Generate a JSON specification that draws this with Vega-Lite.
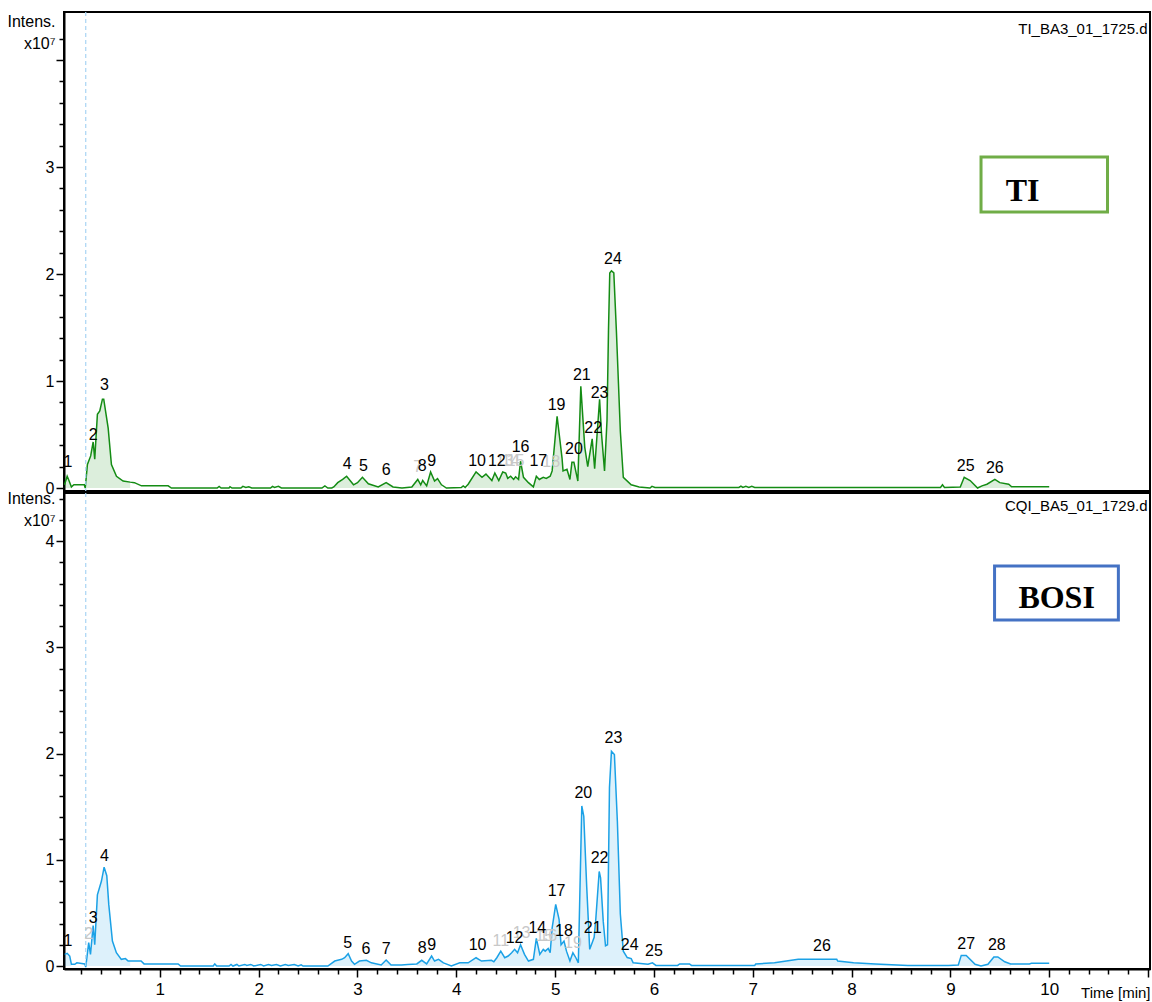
{
  "$schema": "https://vega.github.io/schema/vega-lite/v6.json",
  "padding": {"left": 5, "top": 10, "right": 4, "bottom": 2},
  "spacing": 2,
  "bounds": "flush",
  "config": {
    "view": {"stroke": "black", "strokeWidth": 2},
    "font": "Liberation Sans, Arial, sans-serif",
    "axis": {"grid": false, "domainColor": "black", "domainWidth": 2, "tickColor": "black", "tickWidth": 1.5, "labelColor": "black", "titleColor": "black", "labelFlush": false, "labelOverlap": false}
  },
  "datasets": {
    "ti": [
      {"t": 0.035, "v": 0.03, "g": "a"}, {"t": 0.062, "v": 0.11, "g": "a"}, {"t": 0.08, "v": 0.07, "g": "a"}, {"t": 0.105, "v": 0.01, "g": "a"},
      {"t": 0.13, "v": 0.03, "g": null}, {"t": 0.2, "v": 0.03, "g": null}, {"t": 0.235, "v": 0.03, "g": null},
      {"t": 0.245, "v": 0.0, "g": "b"}, {"t": 0.267, "v": 0.22, "g": "b"}, {"t": 0.3, "v": 0.3, "g": "b"}, {"t": 0.325, "v": 0.43, "g": "b"}, {"t": 0.341, "v": 0.27, "g": "b"}, {"t": 0.368, "v": 0.69, "g": "b"}, {"t": 0.392, "v": 0.72, "g": "b"}, {"t": 0.419, "v": 0.83, "g": "b"}, {"t": 0.432, "v": 0.83, "g": "b"}, {"t": 0.477, "v": 0.56, "g": "b"}, {"t": 0.51, "v": 0.22, "g": "b"}, {"t": 0.561, "v": 0.11, "g": "b"}, {"t": 0.628, "v": 0.065, "g": "b"}, {"t": 0.7, "v": 0.055, "g": "b"},
      {"t": 0.743, "v": 0.05, "g": null}, {"t": 0.814, "v": 0.02, "g": null}, {"t": 1.084, "v": 0.02, "g": null}, {"t": 1.117, "v": 0.0, "g": null}, {"t": 1.58, "v": 0.0, "g": null}, {"t": 1.6, "v": 0.015, "g": null}, {"t": 1.62, "v": 0.0, "g": null}, {"t": 1.7, "v": 0.0, "g": null}, {"t": 1.71, "v": 0.012, "g": null}, {"t": 1.73, "v": 0.0, "g": null}, {"t": 1.82, "v": 0.0, "g": null}, {"t": 1.84, "v": 0.015, "g": null}, {"t": 1.87, "v": 0.005, "g": null}, {"t": 1.9, "v": 0.012, "g": null}, {"t": 1.93, "v": 0.0, "g": null}, {"t": 2.12, "v": 0.0, "g": null}, {"t": 2.14, "v": 0.015, "g": null}, {"t": 2.16, "v": 0.005, "g": null}, {"t": 2.2, "v": 0.015, "g": null}, {"t": 2.23, "v": 0.0, "g": null}, {"t": 2.64, "v": 0.0, "g": null}, {"t": 2.67, "v": 0.02, "g": null}, {"t": 2.7, "v": 0.0, "g": null}, {"t": 2.74, "v": 0.0, "g": null},
      {"t": 2.76, "v": 0.01, "g": "c"}, {"t": 2.8, "v": 0.05, "g": "c"}, {"t": 2.85, "v": 0.08, "g": "c"}, {"t": 2.89, "v": 0.11, "g": "c"}, {"t": 2.96, "v": 0.03, "g": "c"}, {"t": 3.0, "v": 0.05, "g": "c"}, {"t": 3.05, "v": 0.1, "g": "c"}, {"t": 3.11, "v": 0.04, "g": "c"}, {"t": 3.21, "v": 0.01, "g": "c"}, {"t": 3.29, "v": 0.05, "g": "c"}, {"t": 3.36, "v": 0.01, "g": "c"},
      {"t": 3.45, "v": 0.0, "g": null},
      {"t": 3.55, "v": 0.01, "g": "d"}, {"t": 3.61, "v": 0.08, "g": "d"}, {"t": 3.64, "v": 0.03, "g": "d"}, {"t": 3.66, "v": 0.07, "g": "d"}, {"t": 3.7, "v": 0.02, "g": "d"}, {"t": 3.74, "v": 0.15, "g": "d"}, {"t": 3.78, "v": 0.065, "g": "d"}, {"t": 3.81, "v": 0.087, "g": "d"}, {"t": 3.85, "v": 0.03, "g": "d"},
      {"t": 3.9, "v": 0.0, "g": null}, {"t": 4.05, "v": 0.005, "g": null}, {"t": 4.07, "v": 0.02, "g": null}, {"t": 4.09, "v": 0.005, "g": null},
      {"t": 4.12, "v": 0.035, "g": "e"}, {"t": 4.2, "v": 0.15, "g": "e"}, {"t": 4.26, "v": 0.1, "g": "e"}, {"t": 4.3, "v": 0.13, "g": "e"}, {"t": 4.36, "v": 0.07, "g": "e"}, {"t": 4.39, "v": 0.14, "g": "e"}, {"t": 4.43, "v": 0.07, "g": "e"}, {"t": 4.47, "v": 0.15, "g": "e"}, {"t": 4.5, "v": 0.14, "g": "e"}, {"t": 4.52, "v": 0.09, "g": "e"}, {"t": 4.55, "v": 0.11, "g": "e"}, {"t": 4.58, "v": 0.08, "g": "e"}, {"t": 4.6, "v": 0.105, "g": "e"}, {"t": 4.63, "v": 0.08, "g": "e"}, {"t": 4.65, "v": 0.25, "g": "e"}, {"t": 4.68, "v": 0.1, "g": "e"}, {"t": 4.73, "v": 0.05, "g": "e"}, {"t": 4.78, "v": 0.01, "g": "e"}, {"t": 4.81, "v": 0.11, "g": "e"}, {"t": 4.84, "v": 0.08, "g": "e"}, {"t": 4.88, "v": 0.1, "g": "e"}, {"t": 4.91, "v": 0.09, "g": "e"}, {"t": 4.95, "v": 0.11, "g": "e"}, {"t": 4.97, "v": 0.16, "g": "e"}, {"t": 5.02, "v": 0.67, "g": "e"}, {"t": 5.07, "v": 0.28, "g": "e"}, {"t": 5.08, "v": 0.16, "g": "e"}, {"t": 5.12, "v": 0.175, "g": "e"}, {"t": 5.15, "v": 0.08, "g": "e"}, {"t": 5.17, "v": 0.24, "g": "e"}, {"t": 5.19, "v": 0.24, "g": "e"}, {"t": 5.23, "v": 0.065, "g": "e"}, {"t": 5.26, "v": 0.95, "g": "e"}, {"t": 5.3, "v": 0.38, "g": "e"}, {"t": 5.33, "v": 0.2, "g": "e"}, {"t": 5.375, "v": 0.46, "g": "e"}, {"t": 5.4, "v": 0.18, "g": "e"}, {"t": 5.45, "v": 0.83, "g": "e"}, {"t": 5.47, "v": 0.5, "g": "e"}, {"t": 5.5, "v": 0.16, "g": "e"}, {"t": 5.525, "v": 0.63, "g": "e"}, {"t": 5.54, "v": 1.47, "g": "e"}, {"t": 5.553, "v": 2.01, "g": "e"}, {"t": 5.57, "v": 2.03, "g": "e"}, {"t": 5.594, "v": 2.01, "g": "e"}, {"t": 5.62, "v": 1.47, "g": "e"}, {"t": 5.66, "v": 0.53, "g": "e"}, {"t": 5.69, "v": 0.1, "g": "e"}, {"t": 5.77, "v": 0.03, "g": "e"},
      {"t": 5.85, "v": 0.01, "g": null}, {"t": 5.96, "v": 0.0, "g": null}, {"t": 5.98, "v": 0.015, "g": null}, {"t": 6.01, "v": 0.005, "g": null}, {"t": 6.86, "v": 0.005, "g": null}, {"t": 6.88, "v": 0.018, "g": null}, {"t": 6.9, "v": 0.005, "g": null}, {"t": 6.93, "v": 0.015, "g": null}, {"t": 6.96, "v": 0.005, "g": null}, {"t": 6.99, "v": 0.015, "g": null}, {"t": 7.02, "v": 0.005, "g": null}, {"t": 8.9, "v": 0.005, "g": null}, {"t": 8.92, "v": 0.03, "g": null}, {"t": 8.94, "v": 0.005, "g": null},
      {"t": 9.1, "v": 0.01, "g": "f"}, {"t": 9.14, "v": 0.1, "g": "f"}, {"t": 9.2, "v": 0.07, "g": "f"}, {"t": 9.275, "v": 0.0, "g": "f"}, {"t": 9.32, "v": 0.02, "g": "f"}, {"t": 9.37, "v": 0.035, "g": "f"}, {"t": 9.45, "v": 0.08, "g": "f"}, {"t": 9.5, "v": 0.05, "g": "f"}, {"t": 9.59, "v": 0.035, "g": "f"}, {"t": 9.62, "v": 0.012, "g": "f"},
      {"t": 10.0, "v": 0.012, "g": null}
    ],
    "bosi": [
      {"t": 0.037, "v": 0.11, "g": "a"}, {"t": 0.062, "v": 0.12, "g": "a"}, {"t": 0.088, "v": 0.094, "g": "a"}, {"t": 0.105, "v": 0.016, "g": "a"},
      {"t": 0.139, "v": 0.016, "g": null}, {"t": 0.16, "v": 0.03, "g": null}, {"t": 0.24, "v": 0.02, "g": null},
      {"t": 0.25, "v": -0.01, "g": "b"}, {"t": 0.28, "v": 0.22, "g": "b"}, {"t": 0.298, "v": 0.11, "g": "b"}, {"t": 0.325, "v": 0.38, "g": "b"}, {"t": 0.341, "v": 0.2, "g": "b"}, {"t": 0.368, "v": 0.67, "g": "b"}, {"t": 0.409, "v": 0.8, "g": "b"}, {"t": 0.436, "v": 0.93, "g": "b"}, {"t": 0.463, "v": 0.85, "g": "b"}, {"t": 0.483, "v": 0.58, "g": "b"}, {"t": 0.52, "v": 0.235, "g": "b"}, {"t": 0.56, "v": 0.125, "g": "b"}, {"t": 0.61, "v": 0.063, "g": "b"}, {"t": 0.652, "v": 0.07, "g": "b"}, {"t": 0.679, "v": 0.047, "g": "b"}, {"t": 0.7, "v": 0.047, "g": "b"},
      {"t": 0.81, "v": 0.047, "g": null}, {"t": 0.84, "v": 0.02, "g": null}, {"t": 1.185, "v": 0.02, "g": null}, {"t": 1.21, "v": 0.0, "g": null}, {"t": 1.54, "v": 0.0, "g": null}, {"t": 1.556, "v": 0.02, "g": null}, {"t": 1.575, "v": 0.0, "g": null}, {"t": 1.7, "v": 0.0, "g": null}, {"t": 1.72, "v": 0.015, "g": null}, {"t": 1.74, "v": 0.0, "g": null}, {"t": 1.78, "v": 0.015, "g": null}, {"t": 1.8, "v": 0.0, "g": null}, {"t": 1.86, "v": 0.015, "g": null}, {"t": 1.88, "v": 0.005, "g": null}, {"t": 1.92, "v": 0.015, "g": null}, {"t": 1.95, "v": 0.0, "g": null}, {"t": 2.02, "v": 0.015, "g": null}, {"t": 2.05, "v": 0.0, "g": null}, {"t": 2.1, "v": 0.015, "g": null}, {"t": 2.13, "v": 0.005, "g": null}, {"t": 2.18, "v": 0.015, "g": null}, {"t": 2.22, "v": 0.0, "g": null}, {"t": 2.27, "v": 0.015, "g": null}, {"t": 2.3, "v": 0.005, "g": null}, {"t": 2.36, "v": 0.015, "g": null}, {"t": 2.4, "v": 0.0, "g": null}, {"t": 2.43, "v": 0.012, "g": null}, {"t": 2.45, "v": 0.0, "g": null}, {"t": 2.68, "v": 0.0, "g": null},
      {"t": 2.7, "v": 0.0, "g": "c"}, {"t": 2.77, "v": 0.047, "g": "c"}, {"t": 2.84, "v": 0.063, "g": "c"}, {"t": 2.87, "v": 0.078, "g": "c"}, {"t": 2.906, "v": 0.116, "g": "c"}, {"t": 2.94, "v": 0.047, "g": "c"}, {"t": 2.97, "v": 0.016, "g": "c"}, {"t": 3.02, "v": 0.047, "g": "c"}, {"t": 3.09, "v": 0.054, "g": "c"}, {"t": 3.14, "v": 0.03, "g": "c"}, {"t": 3.24, "v": 0.01, "g": "c"}, {"t": 3.29, "v": 0.056, "g": "c"}, {"t": 3.34, "v": 0.01, "g": "c"},
      {"t": 3.445, "v": 0.01, "g": null}, {"t": 3.51, "v": 0.015, "g": null},
      {"t": 3.6, "v": 0.02, "g": "d"}, {"t": 3.65, "v": 0.054, "g": "d"}, {"t": 3.7, "v": 0.02, "g": "d"}, {"t": 3.75, "v": 0.094, "g": "d"}, {"t": 3.78, "v": 0.047, "g": "d"}, {"t": 3.82, "v": 0.063, "g": "d"}, {"t": 3.87, "v": 0.03, "g": "d"},
      {"t": 3.95, "v": 0.0, "g": null},
      {"t": 4.035, "v": 0.03, "g": "e"}, {"t": 4.12, "v": 0.03, "g": "e"}, {"t": 4.2, "v": 0.078, "g": "e"}, {"t": 4.255, "v": 0.047, "g": "e"}, {"t": 4.356, "v": 0.054, "g": "e"}, {"t": 4.38, "v": 0.04, "g": "e"}, {"t": 4.41, "v": 0.078, "g": "e"}, {"t": 4.45, "v": 0.14, "g": "e"}, {"t": 4.49, "v": 0.078, "g": "e"}, {"t": 4.525, "v": 0.094, "g": "e"}, {"t": 4.56, "v": 0.125, "g": "e"}, {"t": 4.59, "v": 0.157, "g": "e"}, {"t": 4.62, "v": 0.125, "g": "e"}, {"t": 4.65, "v": 0.2, "g": "e"}, {"t": 4.69, "v": 0.11, "g": "e"}, {"t": 4.73, "v": 0.047, "g": "e"}, {"t": 4.78, "v": 0.063, "g": "e"}, {"t": 4.81, "v": 0.26, "g": "e"}, {"t": 4.845, "v": 0.11, "g": "e"}, {"t": 4.88, "v": 0.157, "g": "e"}, {"t": 4.9, "v": 0.14, "g": "e"}, {"t": 4.93, "v": 0.166, "g": "e"}, {"t": 4.95, "v": 0.125, "g": "e"}, {"t": 4.97, "v": 0.36, "g": "e"}, {"t": 5.006, "v": 0.58, "g": "e"}, {"t": 5.04, "v": 0.44, "g": "e"}, {"t": 5.06, "v": 0.2, "g": "e"}, {"t": 5.09, "v": 0.235, "g": "e"}, {"t": 5.115, "v": 0.14, "g": "e"}, {"t": 5.15, "v": 0.047, "g": "e"}, {"t": 5.18, "v": 0.125, "g": "e"}, {"t": 5.21, "v": 0.078, "g": "e"}, {"t": 5.235, "v": 0.03, "g": "e"}, {"t": 5.27, "v": 1.506, "g": "e"}, {"t": 5.29, "v": 1.41, "g": "e"}, {"t": 5.32, "v": 0.74, "g": "e"}, {"t": 5.35, "v": 0.157, "g": "e"}, {"t": 5.375, "v": 0.22, "g": "e"}, {"t": 5.395, "v": 0.27, "g": "e"}, {"t": 5.41, "v": 0.42, "g": "e"}, {"t": 5.446, "v": 0.89, "g": "e"}, {"t": 5.46, "v": 0.83, "g": "e"}, {"t": 5.487, "v": 0.42, "g": "e"}, {"t": 5.51, "v": 0.19, "g": "e"}, {"t": 5.53, "v": 0.2, "g": "e"}, {"t": 5.55, "v": 1.68, "g": "e"}, {"t": 5.57, "v": 2.02, "g": "e"}, {"t": 5.6, "v": 1.99, "g": "e"}, {"t": 5.63, "v": 1.36, "g": "e"}, {"t": 5.66, "v": 0.49, "g": "e"}, {"t": 5.69, "v": 0.14, "g": "e"}, {"t": 5.73, "v": 0.08, "g": "e"}, {"t": 5.77, "v": 0.07, "g": "e"}, {"t": 5.79, "v": 0.03, "g": "e"},
      {"t": 5.94, "v": 0.016, "g": null}, {"t": 5.985, "v": 0.03, "g": null}, {"t": 6.02, "v": 0.006, "g": null}, {"t": 6.24, "v": 0.006, "g": null}, {"t": 6.26, "v": 0.02, "g": null}, {"t": 6.36, "v": 0.02, "g": null}, {"t": 6.38, "v": 0.006, "g": null},
      {"t": 7.02, "v": 0.006, "g": "g"}, {"t": 7.03, "v": 0.02, "g": "g"}, {"t": 7.22, "v": 0.03, "g": "g"}, {"t": 7.34, "v": 0.047, "g": "g"}, {"t": 7.46, "v": 0.063, "g": "g"}, {"t": 7.85, "v": 0.063, "g": "g"}, {"t": 7.86, "v": 0.047, "g": "g"}, {"t": 8.02, "v": 0.03, "g": "g"}, {"t": 8.24, "v": 0.02, "g": "g"}, {"t": 8.57, "v": 0.006, "g": "g"},
      {"t": 8.98, "v": 0.006, "g": null},
      {"t": 9.08, "v": 0.01, "g": "h"}, {"t": 9.11, "v": 0.1, "g": "h"}, {"t": 9.16, "v": 0.1, "g": "h"}, {"t": 9.25, "v": 0.016, "g": "h"}, {"t": 9.31, "v": 0.0, "g": "h"}, {"t": 9.38, "v": 0.016, "g": "h"}, {"t": 9.44, "v": 0.085, "g": "h"}, {"t": 9.48, "v": 0.085, "g": "h"}, {"t": 9.55, "v": 0.04, "g": "h"}, {"t": 9.61, "v": 0.02, "g": "h"},
      {"t": 9.8, "v": 0.02, "g": null}, {"t": 9.82, "v": 0.025, "g": null}, {"t": 10.0, "v": 0.025, "g": null}
    ],
    "tiLabels": [
      {"t": 3.61, "v": 0.2, "lab": "7", "c": "f"}, {"t": 4.49, "v": 0.25, "lab": "13", "c": "f"}, {"t": 4.55, "v": 0.25, "lab": "14", "c": "f"}, {"t": 4.6, "v": 0.25, "lab": "15", "c": "f"}, {"t": 4.96, "v": 0.24, "lab": "18", "c": "f"},
      {"t": 0.07, "v": 0.24, "lab": "1", "c": "k"}, {"t": 0.325, "v": 0.5, "lab": "2", "c": "k"}, {"t": 0.44, "v": 0.96, "lab": "3", "c": "k"}, {"t": 2.895, "v": 0.22, "lab": "4", "c": "k"}, {"t": 3.06, "v": 0.21, "lab": "5", "c": "k"}, {"t": 3.29, "v": 0.165, "lab": "6", "c": "k"}, {"t": 3.655, "v": 0.21, "lab": "8", "c": "k"}, {"t": 3.75, "v": 0.25, "lab": "9", "c": "k"}, {"t": 4.21, "v": 0.25, "lab": "10", "c": "k"}, {"t": 4.41, "v": 0.25, "lab": "12", "c": "k"}, {"t": 4.65, "v": 0.38, "lab": "16", "c": "k"}, {"t": 4.83, "v": 0.25, "lab": "17", "c": "k"}, {"t": 5.015, "v": 0.78, "lab": "19", "c": "k"}, {"t": 5.19, "v": 0.36, "lab": "20", "c": "k"}, {"t": 5.27, "v": 1.06, "lab": "21", "c": "k"}, {"t": 5.385, "v": 0.56, "lab": "22", "c": "k"}, {"t": 5.45, "v": 0.89, "lab": "23", "c": "k"}, {"t": 5.585, "v": 2.14, "lab": "24", "c": "k"}, {"t": 9.155, "v": 0.21, "lab": "25", "c": "k"}, {"t": 9.45, "v": 0.19, "lab": "26", "c": "k"}
    ],
    "bosiLabels": [
      {"t": 0.28, "v": 0.3, "lab": "2", "c": "f"}, {"t": 4.45, "v": 0.24, "lab": "11", "c": "f"}, {"t": 4.66, "v": 0.31, "lab": "13", "c": "f"}, {"t": 4.89, "v": 0.28, "lab": "15", "c": "f"}, {"t": 4.93, "v": 0.28, "lab": "16", "c": "f"}, {"t": 5.18, "v": 0.22, "lab": "19", "c": "f"},
      {"t": 0.07, "v": 0.235, "lab": "1", "c": "k"}, {"t": 0.325, "v": 0.455, "lab": "3", "c": "k"}, {"t": 0.44, "v": 1.035, "lab": "4", "c": "k"}, {"t": 2.9, "v": 0.22, "lab": "5", "c": "k"}, {"t": 3.085, "v": 0.157, "lab": "6", "c": "k"}, {"t": 3.29, "v": 0.157, "lab": "7", "c": "k"}, {"t": 3.655, "v": 0.167, "lab": "8", "c": "k"}, {"t": 3.75, "v": 0.2, "lab": "9", "c": "k"}, {"t": 4.215, "v": 0.2, "lab": "10", "c": "k"}, {"t": 4.59, "v": 0.26, "lab": "12", "c": "k"}, {"t": 4.82, "v": 0.36, "lab": "14", "c": "k"}, {"t": 5.015, "v": 0.71, "lab": "17", "c": "k"}, {"t": 5.09, "v": 0.33, "lab": "18", "c": "k"}, {"t": 5.285, "v": 1.63, "lab": "20", "c": "k"}, {"t": 5.38, "v": 0.36, "lab": "21", "c": "k"}, {"t": 5.45, "v": 1.02, "lab": "22", "c": "k"}, {"t": 5.59, "v": 2.15, "lab": "23", "c": "k"}, {"t": 5.755, "v": 0.2, "lab": "24", "c": "k"}, {"t": 6.0, "v": 0.14, "lab": "25", "c": "k"}, {"t": 7.7, "v": 0.19, "lab": "26", "c": "k"}, {"t": 9.16, "v": 0.21, "lab": "27", "c": "k"}, {"t": 9.47, "v": 0.2, "lab": "28", "c": "k"}
    ]
  },
  "vconcat": [
    {
      "width": 1086,
      "height": 479,
      "encoding": {
        "x": {"field": "t", "type": "quantitative", "scale": {"domain": [0.03, 11.02], "nice": false, "zero": false}, "axis": null},
        "y": {"field": "v", "type": "quantitative", "scale": {"domain": [-0.028, 4.449], "nice": false, "zero": false},
          "axis": {
            "values": [0, 0.2, 0.4, 0.6, 0.8, 1, 1.2, 1.4, 1.6, 1.8, 2, 2.2, 2.4, 2.6, 2.8, 3, 3.2, 3.4, 3.6, 3.8, 4, 4.2],
            "labelExpr": "abs(datum.value - round(datum.value)) < 0.01 && datum.value < 3.5 ? format(datum.value, 'd') : ''",
            "tickSize": {"condition": {"test": "abs(datum.value - round(datum.value)) < 0.01", "value": 8}, "value": 5},
            "labelFontSize": 16, "labelPadding": 2,
            "title": ["Intens.", "x10⁷"], "titleAngle": 0, "titleAlign": "right", "titleBaseline": "top", "titleX": -9, "titleY": 1, "titleFontSize": 16, "titleFontWeight": "normal", "titleLineHeight": 22
          }
        }
      },
      "layer": [
        {"data": {"name": "ti"}, "transform": [{"filter": "datum.g != null"}], "mark": {"type": "area", "color": "#148c14", "opacity": 0.15}, "encoding": {"y2": {"datum": 0}, "detail": {"field": "g"}}},
        {"data": {"name": "ti"}, "mark": {"type": "line", "color": "#148c14", "strokeWidth": 1.5}},
        {"data": {"values": [{"t": 0.25}]}, "mark": {"type": "rule", "color": "#a8d4f4", "strokeDash": [4, 3], "strokeWidth": 1.2}, "encoding": {"y": null}},
        {"data": {"name": "tiLabels"}, "mark": {"type": "text", "fontSize": 16, "baseline": "middle", "align": "center"}, "encoding": {"text": {"field": "lab"}, "color": {"field": "c", "type": "nominal", "scale": {"domain": ["k", "f"], "range": ["black", "#c8c8c8"]}, "legend": null}}},
        {"data": {"values": [{"x1": 9.31, "x2": 10.59, "y1": 2.579, "y2": 3.093}]}, "mark": {"type": "rect", "fill": "white", "stroke": "#70ad47", "strokeWidth": 3}, "encoding": {"x": {"field": "x1", "type": "quantitative"}, "x2": {"field": "x2"}, "y": {"field": "y1", "type": "quantitative"}, "y2": {"field": "y2"}}},
        {"data": {"values": [{"t": 9.73, "v": 2.776, "lab": "TI"}]}, "mark": {"type": "text", "font": "Liberation Serif, Times New Roman, serif", "fontWeight": "bold", "fontSize": 32, "baseline": "middle", "align": "center", "color": "black"}, "encoding": {"text": {"field": "lab"}}},
        {"data": {"values": [{"t": 10.995, "v": 4.29, "lab": "TI_BA3_01_1725.d"}]}, "mark": {"type": "text", "fontSize": 15, "baseline": "middle", "align": "right", "color": "black"}, "encoding": {"text": {"field": "lab"}}}
      ]
    },
    {
      "width": 1086,
      "height": 476,
      "encoding": {
        "x": {"field": "t", "type": "quantitative", "scale": {"domain": [0.03, 11.02], "nice": false, "zero": false},
          "axis": {
            "values": [0.2, 0.4, 0.6, 0.8, 1, 1.2, 1.4, 1.6, 1.8, 2, 2.2, 2.4, 2.6, 2.8, 3, 3.2, 3.4, 3.6, 3.8, 4, 4.2, 4.4, 4.6, 4.8, 5, 5.2, 5.4, 5.6, 5.8, 6, 6.2, 6.4, 6.6, 6.8, 7, 7.2, 7.4, 7.6, 7.8, 8, 8.2, 8.4, 8.6, 8.8, 9, 9.2, 9.4, 9.6, 9.8, 10, 10.2, 10.4, 10.6, 10.8, 11],
            "labelExpr": "abs(datum.value - round(datum.value)) < 0.01 && datum.value < 10.5 ? format(datum.value, 'd') : ''",
            "tickSize": {"condition": {"test": "abs(datum.value - round(datum.value)) < 0.01", "value": 8}, "value": 5},
            "labelFontSize": 17, "labelPadding": 4,
            "title": "Time [min]", "titleAlign": "right", "titleBaseline": "middle", "titleX": 1086, "titleY": 23, "titleFontSize": 15, "titleFontWeight": "normal"
          }
        },
        "y": {"field": "v", "type": "quantitative", "scale": {"domain": [-0.028, 4.452], "nice": false, "zero": false},
          "axis": {
            "values": [0, 0.2, 0.4, 0.6, 0.8, 1, 1.2, 1.4, 1.6, 1.8, 2, 2.2, 2.4, 2.6, 2.8, 3, 3.2, 3.4, 3.6, 3.8, 4, 4.2, 4.4],
            "labelExpr": "abs(datum.value - round(datum.value)) < 0.01 ? format(datum.value, 'd') : ''",
            "tickSize": {"condition": {"test": "abs(datum.value - round(datum.value)) < 0.01", "value": 8}, "value": 5},
            "labelFontSize": 16, "labelPadding": 2,
            "title": ["Intens.", "x10⁷"], "titleAngle": 0, "titleAlign": "right", "titleBaseline": "top", "titleX": -9, "titleY": -3, "titleFontSize": 16, "titleFontWeight": "normal", "titleLineHeight": 22
          }
        }
      },
      "layer": [
        {"data": {"name": "bosi"}, "transform": [{"filter": "datum.g != null"}], "mark": {"type": "area", "color": "#1ba1e6", "opacity": 0.15}, "encoding": {"y2": {"datum": 0}, "detail": {"field": "g"}}},
        {"data": {"name": "bosi"}, "mark": {"type": "line", "color": "#1ba1e6", "strokeWidth": 1.5}},
        {"data": {"values": [{"t": 0.25}]}, "mark": {"type": "rule", "color": "#a8d4f4", "strokeDash": [4, 3], "strokeWidth": 1.2}, "encoding": {"y": null}},
        {"data": {"name": "bosiLabels"}, "mark": {"type": "text", "fontSize": 16, "baseline": "middle", "align": "center"}, "encoding": {"text": {"field": "lab"}, "color": {"field": "c", "type": "nominal", "scale": {"domain": ["k", "f"], "range": ["black", "#c8c8c8"]}, "legend": null}}},
        {"data": {"values": [{"x1": 9.447, "x2": 10.7, "y1": 3.256, "y2": 3.765}]}, "mark": {"type": "rect", "fill": "white", "stroke": "#4472c4", "strokeWidth": 3}, "encoding": {"x": {"field": "x1", "type": "quantitative"}, "x2": {"field": "x2"}, "y": {"field": "y1", "type": "quantitative"}, "y2": {"field": "y2"}}},
        {"data": {"values": [{"t": 10.075, "v": 3.46, "lab": "BOSI"}]}, "mark": {"type": "text", "font": "Liberation Serif, Times New Roman, serif", "fontWeight": "bold", "fontSize": 32, "baseline": "middle", "align": "center", "color": "black"}, "encoding": {"text": {"field": "lab"}}},
        {"data": {"values": [{"t": 10.995, "v": 4.33, "lab": "CQI_BA5_01_1729.d"}]}, "mark": {"type": "text", "fontSize": 15, "baseline": "middle", "align": "right", "color": "black"}, "encoding": {"text": {"field": "lab"}}}
      ]
    }
  ]
}
